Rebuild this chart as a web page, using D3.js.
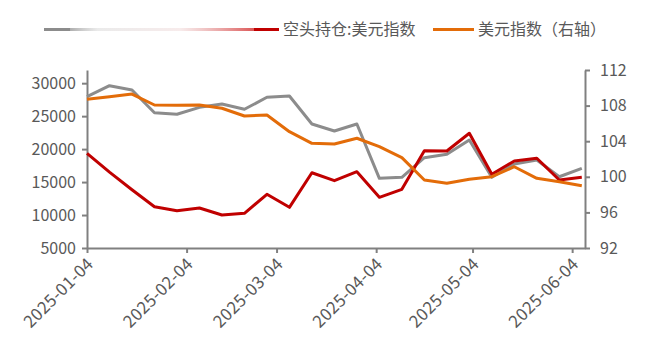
<!DOCTYPE html>
<html>
<head>
<meta charset="utf-8">
<script src="https://cdn.jsdelivr.net/npm/d3@7"></script>
<style>
  html, body { margin: 0; padding: 0; background: #fff; }
  svg { display: block; }
  text { font-family: "Noto Sans CJK SC", "Noto Sans", sans-serif; fill: #595959; }
</style>
</head>
<body>
<svg id="chart" width="650" height="354"></svg>
<script>
const width = 650
const height = 354

// weekly observations
const dates = [
  '2025-01-04', '2025-01-11', '2025-01-18', '2025-01-25', '2025-02-01', '2025-02-08',
  '2025-02-15', '2025-02-22', '2025-03-01', '2025-03-08', '2025-03-15', '2025-03-22',
  '2025-03-29', '2025-04-05', '2025-04-12', '2025-04-19', '2025-04-26', '2025-05-03',
  '2025-05-10', '2025-05-17', '2025-05-24', '2025-05-31', '2025-06-07'
]
// grey series (left axis), its legend label is blank in the source
const greyValues = [
  27950, 29620, 28970, 25520, 25280, 26340, 26840, 26040, 27860, 28060, 23810, 22750,
  23810, 15570, 15720, 18700, 19210, 21380, 15720, 17740, 18350, 15810, 17090
]
// 空头持仓:美元指数 (left axis)
const shortValues = [
  19360, 16510, 13830, 11260, 10660, 11070, 10000, 10260, 13150, 11170, 16420, 15210,
  16570, 12690, 13900, 19760, 19710, 22400, 16180, 18200, 18610, 15310, 15720
]
// 美元指数 (right axis)
const dxyValues = [
  108.71, 109.0, 109.3, 108.07, 108.03, 108.07, 107.70, 106.83, 106.94, 105.07, 103.76, 103.69,
  104.33, 103.38, 102.15, 99.64, 99.27, 99.72, 100.01, 101.13, 99.83, 99.45, 99.0
]

const xTickLabels = ['2025-01-04', '2025-02-04', '2025-03-04', '2025-04-04', '2025-05-04', '2025-06-04']
const leftTicks = [5000, 10000, 15000, 20000, 25000, 30000]
const rightTicks = [92, 96, 100, 104, 108, 112]

const seriesNames = ['', '空头持仓:美元指数', '美元指数（右轴）']

const colorGrey = '#8c8c8c'
const colorRed = '#c00000'
const colorOrange = '#e36c09'
const axisColor = '#808080'

const margin = {left: 87, right: 65, top: 70, bottom: 106}

const parse = d3.timeParse('%Y-%m-%d')

const x = d3.scaleUtc()
  .domain([parse('2025-01-04'), parse('2025-06-08')])
  .range([margin.left, width - margin.right])

const yLeft = d3.scaleLinear()
  .domain([5000, 32000])
  .range([height - margin.bottom, margin.top])

const yRight = d3.scaleLinear()
  .domain([92, 112])
  .range([height - margin.bottom, margin.top])

const svg = d3.select('#chart')

// axes
const xAxis = svg.append('g')
  .attr('transform', `translate(0,${height - margin.bottom})`)
  .call(d3.axisBottom(x)
    .tickValues(xTickLabels.map(parse))
    .tickFormat(d3.utcFormat('%Y-%m-%d'))
    .tickSize(5)
    .tickSizeOuter(0))

xAxis.selectAll('text')
  .attr('text-anchor', 'end')
  .attr('dx', null)
  .attr('dy', null)
  .attr('y', 0)
  .attr('transform', 'translate(7,17) rotate(-45)')
  .style('font-size', '17px')
  .style('letter-spacing', '0.3px')

const leftAxis = svg.append('g')
  .attr('transform', `translate(${margin.left},0)`)
  .call(d3.axisLeft(yLeft)
    .tickValues(leftTicks)
    .tickFormat(d3.format('d'))
    .tickSize(5)
    .tickPadding(6)
    .tickSizeOuter(0))

const rightAxis = svg.append('g')
  .attr('transform', `translate(${width - margin.right},0)`)
  .call(d3.axisRight(yRight)
    .tickValues(rightTicks)
    .tickSize(5)
    .tickPadding(10)
    .tickSizeOuter(0))

svg.selectAll('.domain, .tick line')
  .attr('stroke', axisColor)
  .attr('stroke-width', 2)

leftAxis.selectAll('text').style('font-size', '16px')
rightAxis.selectAll('text').style('font-size', '16px')
svg.selectAll('.tick text').attr('fill', '#595959')

// lines
const rows = dates.map((d, i) => ({
  date: parse(d),
  grey: greyValues[i],
  short: shortValues[i],
  dxy: dxyValues[i]
}))

const lineLeft = key => d3.line()
  .x(d => x(d.date))
  .y(d => yLeft(d[key]))

const lineRight = d3.line()
  .x(d => x(d.date))
  .y(d => yRight(d.dxy))

svg.append('path')
  .datum(rows)
  .attr('fill', 'none')
  .attr('stroke', colorGrey)
  .attr('stroke-width', 3)
  .attr('stroke-linejoin', 'round')
  .attr('d', lineLeft('grey'))

svg.append('path')
  .datum(rows)
  .attr('fill', 'none')
  .attr('stroke', colorRed)
  .attr('stroke-width', 3)
  .attr('stroke-linejoin', 'round')
  .attr('d', lineLeft('short'))

svg.append('path')
  .datum(rows)
  .attr('fill', 'none')
  .attr('stroke', colorOrange)
  .attr('stroke-width', 3)
  .attr('stroke-linejoin', 'round')
  .attr('d', lineRight)

// legend
const defs = svg.append('defs')
const grad = defs.append('linearGradient')
  .attr('id', 'legendFade')
  .attr('gradientUnits', 'userSpaceOnUse')
  .attr('x1', 70).attr('x2', 254).attr('y1', 0).attr('y2', 0)
grad.append('stop').attr('offset', '0%').attr('stop-color', '#999').attr('stop-opacity', 0.8)
grad.append('stop').attr('offset', '15%').attr('stop-color', '#ddd').attr('stop-opacity', 0.6)
grad.append('stop').attr('offset', '60%').attr('stop-color', '#f2dede').attr('stop-opacity', 0.6)
grad.append('stop').attr('offset', '100%').attr('stop-color', '#d84545').attr('stop-opacity', 0.9)

const legend = svg.append('g').attr('transform', 'translate(0,29.5)')

legend.append('line')
  .attr('x1', 44).attr('x2', 70)
  .attr('stroke', colorGrey).attr('stroke-width', 3)
legend.append('line')
  .attr('x1', 70).attr('x2', 254)
  .attr('stroke', 'url(#legendFade)').attr('stroke-width', 3)
legend.append('line')
  .attr('x1', 254).attr('x2', 279)
  .attr('stroke', colorRed).attr('stroke-width', 3)
legend.append('text')
  .attr('x', 283).attr('y', 0)
  .attr('dy', '0.35em')
  .style('font-size', '16px')
  .text(seriesNames[1])

legend.append('line')
  .attr('x1', 433).attr('x2', 474)
  .attr('stroke', colorOrange).attr('stroke-width', 3)
legend.append('text')
  .attr('x', 478).attr('y', 0)
  .attr('dy', '0.35em')
  .style('font-size', '16px')
  .text(seriesNames[2])
</script>
</body>
</html>
